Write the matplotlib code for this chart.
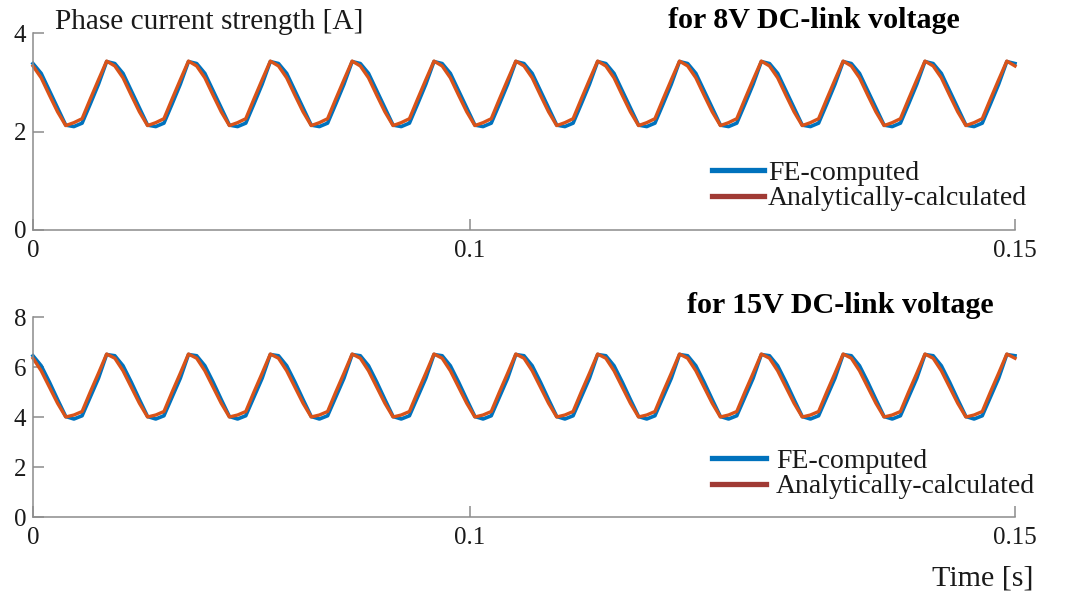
import numpy as np
import matplotlib
matplotlib.use("Agg")
import matplotlib.pyplot as plt
from matplotlib.lines import Line2D

plt.rcParams['font.family'] = ['Liberation Serif', 'DejaVu Serif']

# ---------------- data ----------------
# the x axis of the reference ends at ~0.225 (0.1 sits at 44.5 % of the width)
# although its last tick is labelled "0.15"
x_end = 0.2247
time_s = np.linspace(0.0, x_end, 121)   # regular sampling grid

fe_8v = [
    3.38, 3.18, 2.83, 2.48, 2.13, 2.10, 2.17, 2.56, 2.96, 3.42,
    3.38, 3.18, 2.83, 2.48, 2.13, 2.10, 2.17, 2.56, 2.96, 3.42,
    3.38, 3.18, 2.83, 2.48, 2.13, 2.10, 2.17, 2.56, 2.96, 3.42,
    3.38, 3.18, 2.83, 2.48, 2.13, 2.10, 2.17, 2.56, 2.96, 3.42,
    3.38, 3.18, 2.83, 2.48, 2.13, 2.10, 2.17, 2.56, 2.96, 3.42,
    3.38, 3.18, 2.83, 2.48, 2.13, 2.10, 2.17, 2.56, 2.96, 3.42,
    3.38, 3.18, 2.83, 2.48, 2.13, 2.10, 2.17, 2.56, 2.96, 3.42,
    3.38, 3.18, 2.83, 2.48, 2.13, 2.10, 2.17, 2.56, 2.96, 3.42,
    3.38, 3.18, 2.83, 2.48, 2.13, 2.10, 2.17, 2.56, 2.96, 3.42,
    3.38, 3.18, 2.83, 2.48, 2.13, 2.10, 2.17, 2.56, 2.96, 3.42,
    3.38, 3.18, 2.83, 2.48, 2.13, 2.10, 2.17, 2.56, 2.96, 3.42,
    3.38, 3.18, 2.83, 2.48, 2.13, 2.10, 2.17, 2.56, 2.96, 3.42,
    3.38,
]
an_8v = [
    3.33, 3.09, 2.74, 2.40, 2.12, 2.18, 2.26, 2.66, 3.05, 3.43,
    3.33, 3.09, 2.74, 2.40, 2.12, 2.18, 2.26, 2.66, 3.05, 3.43,
    3.33, 3.09, 2.74, 2.40, 2.12, 2.18, 2.26, 2.66, 3.05, 3.43,
    3.33, 3.09, 2.74, 2.40, 2.12, 2.18, 2.26, 2.66, 3.05, 3.43,
    3.33, 3.09, 2.74, 2.40, 2.12, 2.18, 2.26, 2.66, 3.05, 3.43,
    3.33, 3.09, 2.74, 2.40, 2.12, 2.18, 2.26, 2.66, 3.05, 3.43,
    3.33, 3.09, 2.74, 2.40, 2.12, 2.18, 2.26, 2.66, 3.05, 3.43,
    3.33, 3.09, 2.74, 2.40, 2.12, 2.18, 2.26, 2.66, 3.05, 3.43,
    3.33, 3.09, 2.74, 2.40, 2.12, 2.18, 2.26, 2.66, 3.05, 3.43,
    3.33, 3.09, 2.74, 2.40, 2.12, 2.18, 2.26, 2.66, 3.05, 3.43,
    3.33, 3.09, 2.74, 2.40, 2.12, 2.18, 2.26, 2.66, 3.05, 3.43,
    3.33, 3.09, 2.74, 2.40, 2.12, 2.18, 2.26, 2.66, 3.05, 3.43,
    3.33,
]
fe_15v = [
    6.45, 6.05, 5.40, 4.70, 4.02, 3.92, 4.05, 4.80, 5.55, 6.50,
    6.45, 6.05, 5.40, 4.70, 4.02, 3.92, 4.05, 4.80, 5.55, 6.50,
    6.45, 6.05, 5.40, 4.70, 4.02, 3.92, 4.05, 4.80, 5.55, 6.50,
    6.45, 6.05, 5.40, 4.70, 4.02, 3.92, 4.05, 4.80, 5.55, 6.50,
    6.45, 6.05, 5.40, 4.70, 4.02, 3.92, 4.05, 4.80, 5.55, 6.50,
    6.45, 6.05, 5.40, 4.70, 4.02, 3.92, 4.05, 4.80, 5.55, 6.50,
    6.45, 6.05, 5.40, 4.70, 4.02, 3.92, 4.05, 4.80, 5.55, 6.50,
    6.45, 6.05, 5.40, 4.70, 4.02, 3.92, 4.05, 4.80, 5.55, 6.50,
    6.45, 6.05, 5.40, 4.70, 4.02, 3.92, 4.05, 4.80, 5.55, 6.50,
    6.45, 6.05, 5.40, 4.70, 4.02, 3.92, 4.05, 4.80, 5.55, 6.50,
    6.45, 6.05, 5.40, 4.70, 4.02, 3.92, 4.05, 4.80, 5.55, 6.50,
    6.45, 6.05, 5.40, 4.70, 4.02, 3.92, 4.05, 4.80, 5.55, 6.50,
    6.45,
]
an_15v = [
    6.35, 5.85, 5.20, 4.55, 4.00, 4.08, 4.22, 5.00, 5.75, 6.52,
    6.35, 5.85, 5.20, 4.55, 4.00, 4.08, 4.22, 5.00, 5.75, 6.52,
    6.35, 5.85, 5.20, 4.55, 4.00, 4.08, 4.22, 5.00, 5.75, 6.52,
    6.35, 5.85, 5.20, 4.55, 4.00, 4.08, 4.22, 5.00, 5.75, 6.52,
    6.35, 5.85, 5.20, 4.55, 4.00, 4.08, 4.22, 5.00, 5.75, 6.52,
    6.35, 5.85, 5.20, 4.55, 4.00, 4.08, 4.22, 5.00, 5.75, 6.52,
    6.35, 5.85, 5.20, 4.55, 4.00, 4.08, 4.22, 5.00, 5.75, 6.52,
    6.35, 5.85, 5.20, 4.55, 4.00, 4.08, 4.22, 5.00, 5.75, 6.52,
    6.35, 5.85, 5.20, 4.55, 4.00, 4.08, 4.22, 5.00, 5.75, 6.52,
    6.35, 5.85, 5.20, 4.55, 4.00, 4.08, 4.22, 5.00, 5.75, 6.52,
    6.35, 5.85, 5.20, 4.55, 4.00, 4.08, 4.22, 5.00, 5.75, 6.52,
    6.35, 5.85, 5.20, 4.55, 4.00, 4.08, 4.22, 5.00, 5.75, 6.52,
    6.35,
]

series_labels = ["FE-computed", "Analytically-calculated"]
x_ticks = [0, 0.1, x_end]
x_ticklabels = ["0", "0.1", "0.15"]
y_ticks_8v = [0, 2, 4]
y_ticks_15v = [0, 2, 4, 6, 8]

# ---------------- style ----------------
W, H = 1065, 598
BLUE = "#0072BD"
ORANGE = "#D95319"
LEG_RED = "#A03A34"
AXC = "#8c8c8c"
TXT = "#1a1a1a"

fig = plt.figure(figsize=(W / 100, H / 100), dpi=100)
fig.patch.set_facecolor("white")

ax1 = fig.add_axes([33 / W, (H - 230) / H, 982 / W, 197 / H])
ax2 = fig.add_axes([33 / W, (H - 517) / H, 982 / W, 200 / H])


def style(ax, yticks, ymax):
    ax.set_xlim(0, x_end)
    ax.set_ylim(0, ymax)
    ax.set_xticks(x_ticks)
    ax.set_xticklabels(x_ticklabels)
    ax.set_yticks(yticks)
    ax.set_yticklabels([str(v) for v in yticks])
    for s in ("top", "right"):
        ax.spines[s].set_visible(False)
    for s in ("left", "bottom"):
        ax.spines[s].set_color(AXC)
        ax.spines[s].set_linewidth(1.1)
    ax.tick_params(axis="both", direction="in", length=8, width=1.1,
                   color=AXC, labelsize=18, labelcolor=TXT)
    ax.tick_params(axis="x", pad=7)
    ax.tick_params(axis="y", pad=5)


ax1.plot(time_s, fe_8v, color=BLUE, lw=2.6, solid_joinstyle="round", clip_on=False)
ax1.plot(time_s, an_8v, color=ORANGE, lw=2.4, solid_joinstyle="round", clip_on=False)
style(ax1, y_ticks_8v, 4)

ax2.plot(time_s, fe_15v, color=BLUE, lw=2.6, solid_joinstyle="round", clip_on=False)
ax2.plot(time_s, an_15v, color=ORANGE, lw=2.4, solid_joinstyle="round", clip_on=False)
style(ax2, y_ticks_15v, 8)

handles = [Line2D([], [], color=BLUE, lw=3.8), Line2D([], [], color=LEG_RED, lw=3.8)]

LEG_FS = 20
leg1 = ax1.legend(handles, series_labels, loc="center left",
                  bbox_to_anchor=(712 / W, (H - 186) / H), bbox_transform=fig.transFigure,
                  frameon=False, fontsize=LEG_FS, handlelength=52 / 27.8,
                  handletextpad=4 / 27.8, borderpad=0, borderaxespad=0, labelspacing=0.0)
for t in leg1.get_texts():
    t.set_color(TXT)

leg2 = ax2.legend(handles, series_labels, loc="center left",
                  bbox_to_anchor=(712 / W, (H - 474) / H), bbox_transform=fig.transFigure,
                  frameon=False, fontsize=LEG_FS, handlelength=54 / 27.8,
                  handletextpad=10 / 27.8, borderpad=0, borderaxespad=0, labelspacing=0.0)
for t in leg2.get_texts():
    t.set_color(TXT)

fig.text(55 / W, 1 - 29 / H, "Phase current strength [A]", fontsize=21.2,
         color=TXT, va="baseline", ha="left")
fig.text(668 / W, 1 - 28 / H, "for 8V DC-link voltage", fontsize=21.6,
         fontweight="bold", color="black", va="baseline", ha="left")
fig.text(687 / W, 1 - 313 / H, "for 15V DC-link voltage", fontsize=21.6,
         fontweight="bold", color="black", va="baseline", ha="left")
fig.text(932 / W, 1 - 586 / H, "Time [s]", fontsize=21.6,
         color=TXT, va="baseline", ha="left")

fig.savefig("out.png", dpi=100, facecolor="white")
